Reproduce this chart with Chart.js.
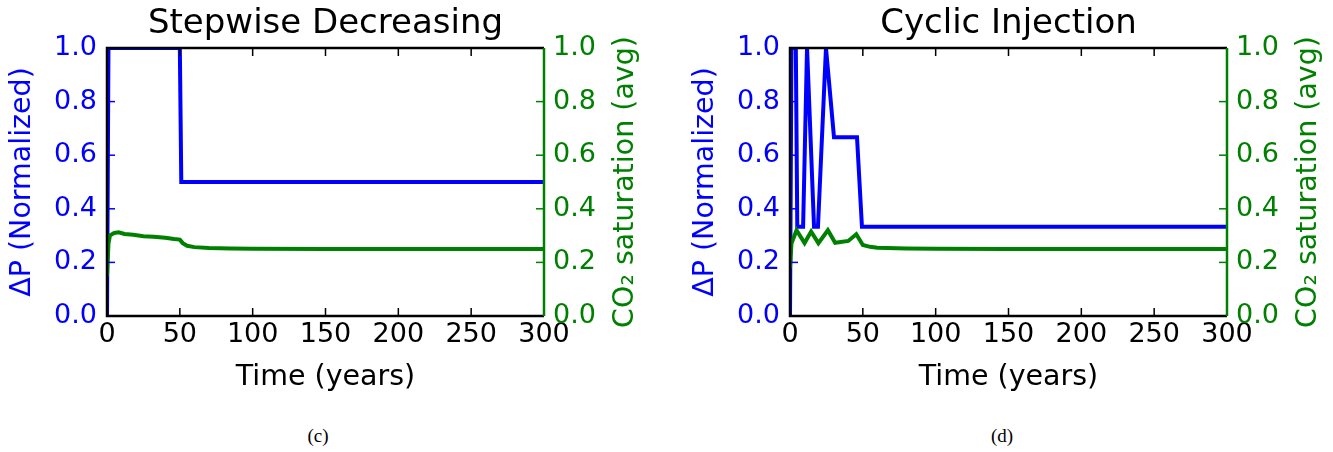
<!DOCTYPE html>
<html>
<head>
<meta charset="utf-8">
<script src="https://cdn.jsdelivr.net/npm/chart.js@4/dist/chart.umd.min.js"></script>
<style>
  html, body { margin: 0; padding: 0; background: #fff; }
  body { width: 1333px; height: 452px; position: relative; overflow: hidden; }
  canvas { position: absolute; top: 0; }
  .cap { position: absolute; top: 425px; font-family: "Liberation Serif", serif; font-size: 19px; color: #000; transform: translateX(-50%); }
</style>
</head>
<body>
<canvas id="stepChart" width="660" height="396" style="left:0"></canvas>
<canvas id="cyclicChart" width="650" height="396" style="left:683px"></canvas>
<div class="cap" style="left:318px">(c)</div>
<div class="cap" style="left:1002px">(d)</div>
<script>
// ===== DATA =====
const xTicks = [0, 50, 100, 150, 200, 250, 300];
const yTicks = [0, 0.2, 0.4, 0.6, 0.8, 1.0];

// Stepwise Decreasing
const stepTime = [0, 1, 50, 51, 300];
const stepPressure = [0, 1, 1, 0.5, 0.5];
const stepSatTime = [0, 1, 2, 5, 8, 12, 18, 25, 32, 40, 46, 50, 52, 55, 60, 70, 85, 100, 150, 200, 300];
const stepSat = [0.15, 0.27, 0.30, 0.31, 0.312, 0.306, 0.303, 0.298, 0.296, 0.292, 0.287, 0.285, 0.272, 0.262, 0.257, 0.254, 0.252, 0.251, 0.25, 0.25, 0.25];

// Cyclic Injection
const cycTime = [0, 1, 4, 5, 9, 11.7, 16.5, 19.2, 24.7, 30.2, 46, 49.4, 300];
const cycPressure = [0, 1, 1, 0.333, 0.333, 1, 0.333, 0.333, 1, 0.667, 0.667, 0.333, 0.333];
const cycSatTime = [0, 1, 4.5, 10, 14.5, 19.5, 26, 31, 40, 45.5, 50, 55, 60, 80, 100, 150, 300];
const cycSat = [0.18, 0.27, 0.32, 0.272, 0.315, 0.272, 0.32, 0.273, 0.28, 0.305, 0.265, 0.258, 0.255, 0.252, 0.251, 0.25, 0.25];

const BLUE = '#0000ff';
const GREEN = '#008000';
const FONT = 'DejaVu Sans';
const TICK_SIZE = 27;
const LABEL_SIZE = 28.5;

const toPoints = (xs, ys) => xs.map((x, i) => ({ x, y: ys[i] }));

// ===== FRAME / INWARD TICKS / TITLES =====
const framePlugin = {
    id: 'frame',
    afterDatasetsDraw(chart, args, opts) {
        const { ctx, chartArea: a, scales } = chart;
        const len = 8;
        ctx.save();
        ctx.lineWidth = 1.5;

        ctx.strokeStyle = '#000';
        xTicks.forEach(v => {
            const px = scales.x.getPixelForValue(v);
            ctx.beginPath();
            ctx.moveTo(px, a.bottom); ctx.lineTo(px, a.bottom - len);
            ctx.moveTo(px, a.top); ctx.lineTo(px, a.top + len);
            ctx.stroke();
        });
        ctx.strokeStyle = BLUE;
        yTicks.forEach(v => {
            const py = scales.y.getPixelForValue(v);
            ctx.beginPath(); ctx.moveTo(a.left, py); ctx.lineTo(a.left + len, py); ctx.stroke();
        });
        ctx.strokeStyle = GREEN;
        yTicks.forEach(v => {
            const py = scales.y1.getPixelForValue(v);
            ctx.beginPath(); ctx.moveTo(a.right, py); ctx.lineTo(a.right - len, py); ctx.stroke();
        });

        // spines
        ctx.lineWidth = 2.5;
        ctx.strokeStyle = '#000';
        ctx.beginPath();
        ctx.moveTo(a.right, a.top); ctx.lineTo(a.left, a.top);
        ctx.lineTo(a.left, a.bottom); ctx.lineTo(a.right, a.bottom);
        ctx.stroke();
        ctx.strokeStyle = GREEN;
        ctx.beginPath(); ctx.moveTo(a.right, a.top); ctx.lineTo(a.right, a.bottom); ctx.stroke();

        // chart title
        ctx.fillStyle = '#000';
        ctx.font = `34px "${FONT}"`;
        ctx.textAlign = 'center';
        ctx.textBaseline = 'middle';
        ctx.fillText(opts.title, (a.left + a.right) / 2, 24);

        // right axis title, reading bottom to top
        ctx.fillStyle = GREEN;
        ctx.font = `${LABEL_SIZE}px "${FONT}"`;
        ctx.translate(a.right + 82, (a.top + a.bottom) / 2);
        ctx.rotate(-Math.PI / 2);
        ctx.fillText('CO₂ saturation (avg)', 0, 0);
        ctx.restore();
    }
};

// ===== CHART BUILDER =====
const renderChart = (id, title, pTime, pVals, sTime, sVals, leftW, rightW) => {
    const ctx = document.getElementById(id);
    if (!ctx) return;

    new Chart(ctx, {
        type: 'line',
        data: {
            datasets: [
                {
                    label: 'ΔP (Normalized)',
                    data: toPoints(pTime, pVals),
                    yAxisID: 'y',
                    borderColor: BLUE,
                    borderWidth: 4,
                    pointRadius: 0,
                    tension: 0,
                    clip: 0,
                    order: 2
                },
                {
                    label: 'CO₂ saturation (avg)',
                    data: toPoints(sTime, sVals),
                    yAxisID: 'y1',
                    borderColor: GREEN,
                    borderWidth: 4,
                    pointRadius: 0,
                    tension: 0,
                    clip: 0,
                    order: 1
                }
            ]
        },
        options: {
            responsive: false,
            animation: false,
            devicePixelRatio: 1,
            layout: { padding: { top: 48, left: 0, right: 0, bottom: 0 } },
            plugins: {
                legend: { display: false },
                tooltip: { enabled: false },
                frame: { title }
            },
            scales: {
                x: {
                    type: 'linear',
                    min: 0,
                    max: 300,
                    afterBuildTicks: (s) => { s.ticks = xTicks.map(v => ({ value: v })); },
                    afterFit: (s) => { s.height = 80; },
                    grid: { display: false, drawTicks: false },
                    border: { display: false },
                    ticks: {
                        color: '#000',
                        padding: 3,
                        maxRotation: 0,
                        font: { family: FONT, size: TICK_SIZE },
                        callback: (v) => String(v)
                    },
                    title: {
                        display: true,
                        text: 'Time (years)',
                        color: '#000',
                        padding: { top: 0, bottom: 1 },
                        font: { family: FONT, size: LABEL_SIZE }
                    }
                },
                y: {
                    position: 'left',
                    min: 0,
                    max: 1,
                    afterBuildTicks: (s) => { s.ticks = yTicks.map(v => ({ value: v })); },
                    afterFit: (s) => { s.width = leftW; },
                    grid: { display: false, drawTicks: false },
                    border: { display: false },
                    ticks: {
                        color: BLUE,
                        padding: 10,
                        font: { family: FONT, size: TICK_SIZE },
                        callback: (v) => v.toFixed(1)
                    },
                    title: {
                        display: true,
                        text: 'ΔP (Normalized)',
                        color: BLUE,
                        padding: { top: 5, bottom: 0 },
                        font: { family: FONT, size: LABEL_SIZE }
                    }
                },
                y1: {
                    position: 'right',
                    min: 0,
                    max: 1,
                    afterBuildTicks: (s) => { s.ticks = yTicks.map(v => ({ value: v })); },
                    afterFit: (s) => { s.width = rightW; },
                    grid: { display: false, drawTicks: false },
                    border: { display: false },
                    ticks: {
                        color: GREEN,
                        padding: 9,
                        font: { family: FONT, size: TICK_SIZE },
                        callback: (v) => v.toFixed(1)
                    }
                }
            }
        },
        plugins: [framePlugin]
    });
};

renderChart('stepChart', 'Stepwise Decreasing', stepTime, stepPressure, stepSatTime, stepSat, 107, 116);
renderChart('cyclicChart', 'Cyclic Injection', cycTime, cycPressure, cycSatTime, cycSat, 107, 106);
</script>
</body>
</html>
